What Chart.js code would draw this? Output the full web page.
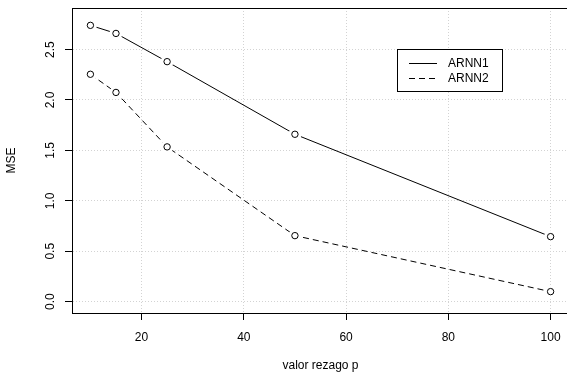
<!DOCTYPE html>
<html>
<head>
<meta charset="utf-8">
<title>MSE vs valor rezago p</title>
<script src="https://cdn.jsdelivr.net/npm/chart.js@4/dist/chart.umd.min.js"></script>
<style>
	html, body { margin: 0; padding: 0; background: #fff; overflow: hidden; }
	#wrap { width: 574px; height: 379px; }
</style>
</head>
<body>
<div id="wrap"><canvas id="mse-chart" width="574" height="379"></canvas></div>
<script>
//Data
var lags = [10, 15, 25, 50, 100];
var arnn1 = [2.74, 2.66, 2.38, 1.66, 0.645];
var arnn2 = [2.255, 2.075, 1.535, 0.655, 0.10];
var seriesNames = ['ARNN1', 'ARNN2'];
var xTicks = [20, 40, 60, 80, 100];
var yTicks = [0, 0.5, 1, 1.5, 2, 2.5];
var yLimits = [0, 2.8];
var xTitle = 'valor rezago p';
var yTitle = 'MSE';

var FONT = '"Liberation Sans", Arial, Helvetica, sans-serif';

// R style axis range: 4% padding on each side
function padRange(lo, hi) {
	var d = (hi - lo) * 0.04;
	return [lo - d, hi + d];
}

function toPoints(xs, ys) {
	return xs.map(function (x, i) { return { x: x, y: ys[i] }; });
}

var MseChart = function () { };

//Static Init
MseChart.Init = function () {
	var chart = new MseChart();
	chart.Init(document.getElementById('mse-chart'));
};
//Public
MseChart.prototype.Init = function (canvas) {
	this._canvas = canvas;
	this._render();
};
//Internal
MseChart.prototype._render = function () {
	this._chart = new Chart(this._canvas.getContext('2d'), this._getChartParams());
};

// top edge of the plot box (right edge falls outside the picture)
MseChart.boxPlugin = {
	id: 'plotBox',
	beforeDatasetsDraw: function (chart) {
		var a = chart.chartArea, ctx = chart.ctx;
		ctx.save();
		ctx.strokeStyle = '#000';
		ctx.lineWidth = 1;
		ctx.beginPath();
		ctx.moveTo(a.left, Math.round(a.top) + 0.5);
		ctx.lineTo(a.right, Math.round(a.top) + 0.5);
		ctx.lineTo(a.right, a.bottom);
		ctx.stroke();
		ctx.restore();
	}
};

// type="b": open gap round each point, then the circle again
MseChart.gapPlugin = {
	id: 'pointGaps',
	afterDatasetsDraw: function (chart) {
		var ctx = chart.ctx;
		chart.data.datasets.forEach(function (ds, i) {
			var meta = chart.getDatasetMeta(i);
			meta.data.forEach(function (pt) {
				ctx.save();
				ctx.fillStyle = '#fff';
				ctx.beginPath();
				ctx.arc(pt.x, pt.y, 6.5, 0, Math.PI * 2);
				ctx.fill();
				ctx.restore();
				pt.draw(ctx, chart.chartArea);
			});
		});
	}
};

// boxed legend inside the plot
MseChart.legendPlugin = {
	id: 'boxLegend',
	afterDraw: function (chart) {
		var ctx = chart.ctx;
		var bx = 397.5, by = 49.5, bw = 105, bh = 42;
		ctx.save();
		ctx.fillStyle = '#fff';
		ctx.fillRect(bx, by, bw, bh);
		ctx.strokeStyle = '#000';
		ctx.lineWidth = 1;
		ctx.strokeRect(bx, by, bw, bh);
		ctx.font = '12px ' + FONT;
		ctx.textBaseline = 'middle';
		ctx.textAlign = 'left';
		chart.data.datasets.forEach(function (ds, i) {
			var y = 63.5 + i * 15;
			ctx.setLineDash(ds.borderDash || []);
			ctx.beginPath();
			ctx.moveTo(409, y);
			ctx.lineTo(437, y);
			ctx.stroke();
			ctx.setLineDash([]);
			ctx.fillStyle = '#000';
			ctx.fillText(ds.label, 448, y + 0.5);
		});
		ctx.restore();
	}
};

MseChart.prototype._getChartParams = function () {
	var xr = padRange(lags[0], lags[lags.length - 1]);
	var yr = padRange(yLimits[0], yLimits[1]);
	var gridLines = {
		color: '#d3d3d3',
		lineWidth: 1,
		tickLength: 7,
		tickColor: '#000',
		tickWidth: 1,
		tickBorderDash: []
	};
	return {
		type: 'line',
		data: {
			datasets: [{
				label: seriesNames[0],
				data: toPoints(lags, arnn1),
				borderColor: '#000',
				borderWidth: 1,
				borderDash: [],
				pointRadius: 3.2,
				pointBorderWidth: 1,
				pointBorderColor: '#000',
				pointBackgroundColor: 'rgba(0,0,0,0)',
				tension: 0
			}, {
				label: seriesNames[1],
				data: toPoints(lags, arnn2),
				borderColor: '#000',
				borderWidth: 1,
				borderDash: [6, 4],
				pointRadius: 3.2,
				pointBorderWidth: 1,
				pointBorderColor: '#000',
				pointBackgroundColor: 'rgba(0,0,0,0)',
				tension: 0
			}]
		},
		options: {
			responsive: false,
			animation: false,
			devicePixelRatio: 1,
			layout: {
				padding: { top: 8, right: 3, left: 0, bottom: 0 }
			},
			plugins: {
				legend: { display: false },
				tooltip: { enabled: false }
			},
			scales: {
				x: {
					type: 'linear',
					min: xr[0],
					max: xr[1],
					afterBuildTicks: function (scale) {
						scale.ticks = xTicks.map(function (v) { return { value: v }; });
					},
					afterFit: function (scale) {
						scale.height = 66;
						scale.paddingLeft = 0;
						scale.paddingRight = 0;
					},
					grid: gridLines,
					border: { display: true, color: '#000', width: 1, dash: [1, 2] },
					ticks: {
						color: '#000',
						padding: 10.5,
						maxRotation: 0,
						font: { family: FONT, size: 12 },
						callback: function (v) { return String(v); }
					},
					title: {
						display: true,
						text: xTitle,
						color: '#000',
						font: { family: FONT, size: 12 },
						padding: { top: 0, bottom: 6 }
					}
				},
				y: {
					type: 'linear',
					min: yr[0],
					max: yr[1],
					afterBuildTicks: function (scale) {
						scale.ticks = yTicks.map(function (v) { return { value: v }; });
					},
					afterFit: function (scale) {
						scale.width = 72;
						scale.paddingTop = 0;
						scale.paddingBottom = 0;
					},
					grid: gridLines,
					border: { display: true, color: '#000', width: 1, dash: [1, 2] },
					ticks: {
						color: '#000',
						padding: 6,
						crossAlign: 'center',
						minRotation: 90,
						maxRotation: 90,
						font: { family: FONT, size: 12 },
						callback: function (v) { return v.toFixed(1); }
					},
					title: {
						display: true,
						text: yTitle,
						color: '#000',
						font: { family: FONT, size: 12 },
						padding: { top: 4.5, bottom: 0 }
					}
				}
			}
		},
		plugins: [MseChart.boxPlugin, MseChart.gapPlugin, MseChart.legendPlugin]
	};
};

//Global Instantiation
MseChart.Init();
</script>
</body>
</html>
